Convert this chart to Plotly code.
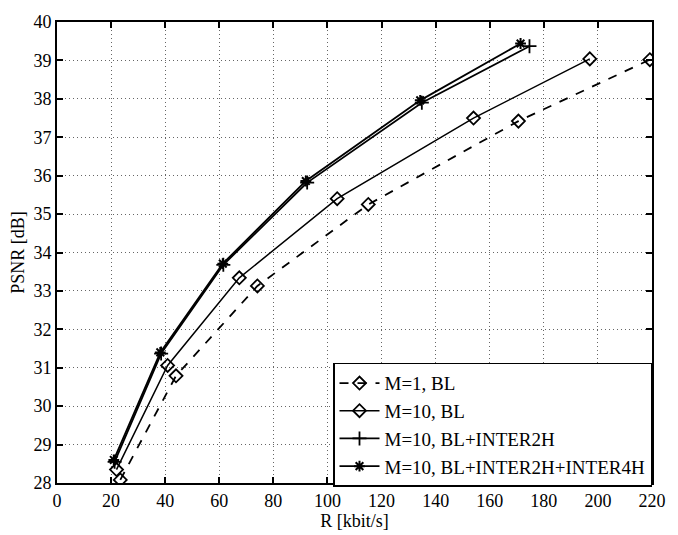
import plotly.graph_objects as go

names = ["M=1, BL", "M=10, BL", "M=10, BL+INTER2H", "M=10, BL+INTER2H+INTER4H"]
r_m1_bl = [23.4, 44.0, 74.1, 115.1, 170.6, 219.2]
p_m1_bl = [28.08, 30.79, 33.13, 35.25, 37.42, 39.02]
r_m10_bl = [22.0, 40.9, 67.4, 103.6, 154.0, 197.0]
p_m10_bl = [28.35, 31.06, 33.34, 35.40, 37.50, 39.04]
r_m10_2h = [21.3, 38.5, 61.5, 92.5, 134.9, 174.7]
p_m10_2h = [28.55, 31.37, 33.68, 35.82, 37.90, 39.37]
r_m10_4h = [21.0, 38.2, 61.3, 92.0, 134.3, 171.4]
p_m10_4h = [28.60, 31.40, 33.71, 35.86, 37.96, 39.44]

xticks = list(range(0, 221, 20))
yticks = list(range(28, 41, 1))

FONT = "Liberation Serif"

fig = go.Figure()
fig.add_trace(go.Scatter(x=r_m1_bl, y=p_m1_bl, name=names[0], mode="lines+markers",
                         line=dict(color="black", width=1.8, dash="dash"),
                         marker=dict(symbol="diamond-open", size=10, color="black", line=dict(width=1.8))))
fig.add_trace(go.Scatter(x=r_m10_bl, y=p_m10_bl, name=names[1], mode="lines+markers",
                         line=dict(color="black", width=1.5),
                         marker=dict(symbol="diamond-open", size=10, color="black", line=dict(width=1.8))))
fig.add_trace(go.Scatter(x=r_m10_2h, y=p_m10_2h, name=names[2], mode="lines+markers",
                         line=dict(color="black", width=1.8),
                         marker=dict(symbol="cross-thin-open", size=10, color="black", line=dict(width=1.8))))
fig.add_trace(go.Scatter(x=r_m10_4h, y=p_m10_4h, name=names[3], mode="lines+markers",
                         line=dict(color="black", width=1.8),
                         marker=dict(symbol="asterisk-open", size=9, color="black", line=dict(width=2))))

axis_common = dict(showline=True, linecolor="black", linewidth=2, mirror="ticks",
                   ticks="inside", ticklen=6, tickwidth=1.5, tickcolor="black",
                   showgrid=True, gridcolor="#666", griddash="1px,3px", gridwidth=1,
                   zeroline=False, tickfont=dict(family=FONT, size=18, color="black"))

fig.update_xaxes(range=[0, 220], tickvals=xticks, ticktext=[str(v) for v in xticks],
                 title=dict(text="R [kbit/s]", font=dict(family=FONT, size=18, color="black"), standoff=0),
                 **axis_common)
fig.update_yaxes(range=[28, 40], tickvals=yticks, ticktext=[str(v) for v in yticks],
                 title=dict(text="PSNR [dB]", font=dict(family=FONT, size=18, color="black"), standoff=4),
                 **axis_common)

fig.update_layout(width=678, height=535, paper_bgcolor="white", plot_bgcolor="white",
                  margin=dict(l=57, r=18, t=14, b=46),
                  font=dict(family=FONT, size=18, color="black"),
                  legend=dict(x=1.0, xanchor="right", y=-0.008, yanchor="bottom",
                              bgcolor="white", bordercolor="black", borderwidth=1.5,
                              font=dict(family=FONT, size=19, color="black"),
                              tracegroupgap=0, itemwidth=40))

fig.write_html("out.html")
